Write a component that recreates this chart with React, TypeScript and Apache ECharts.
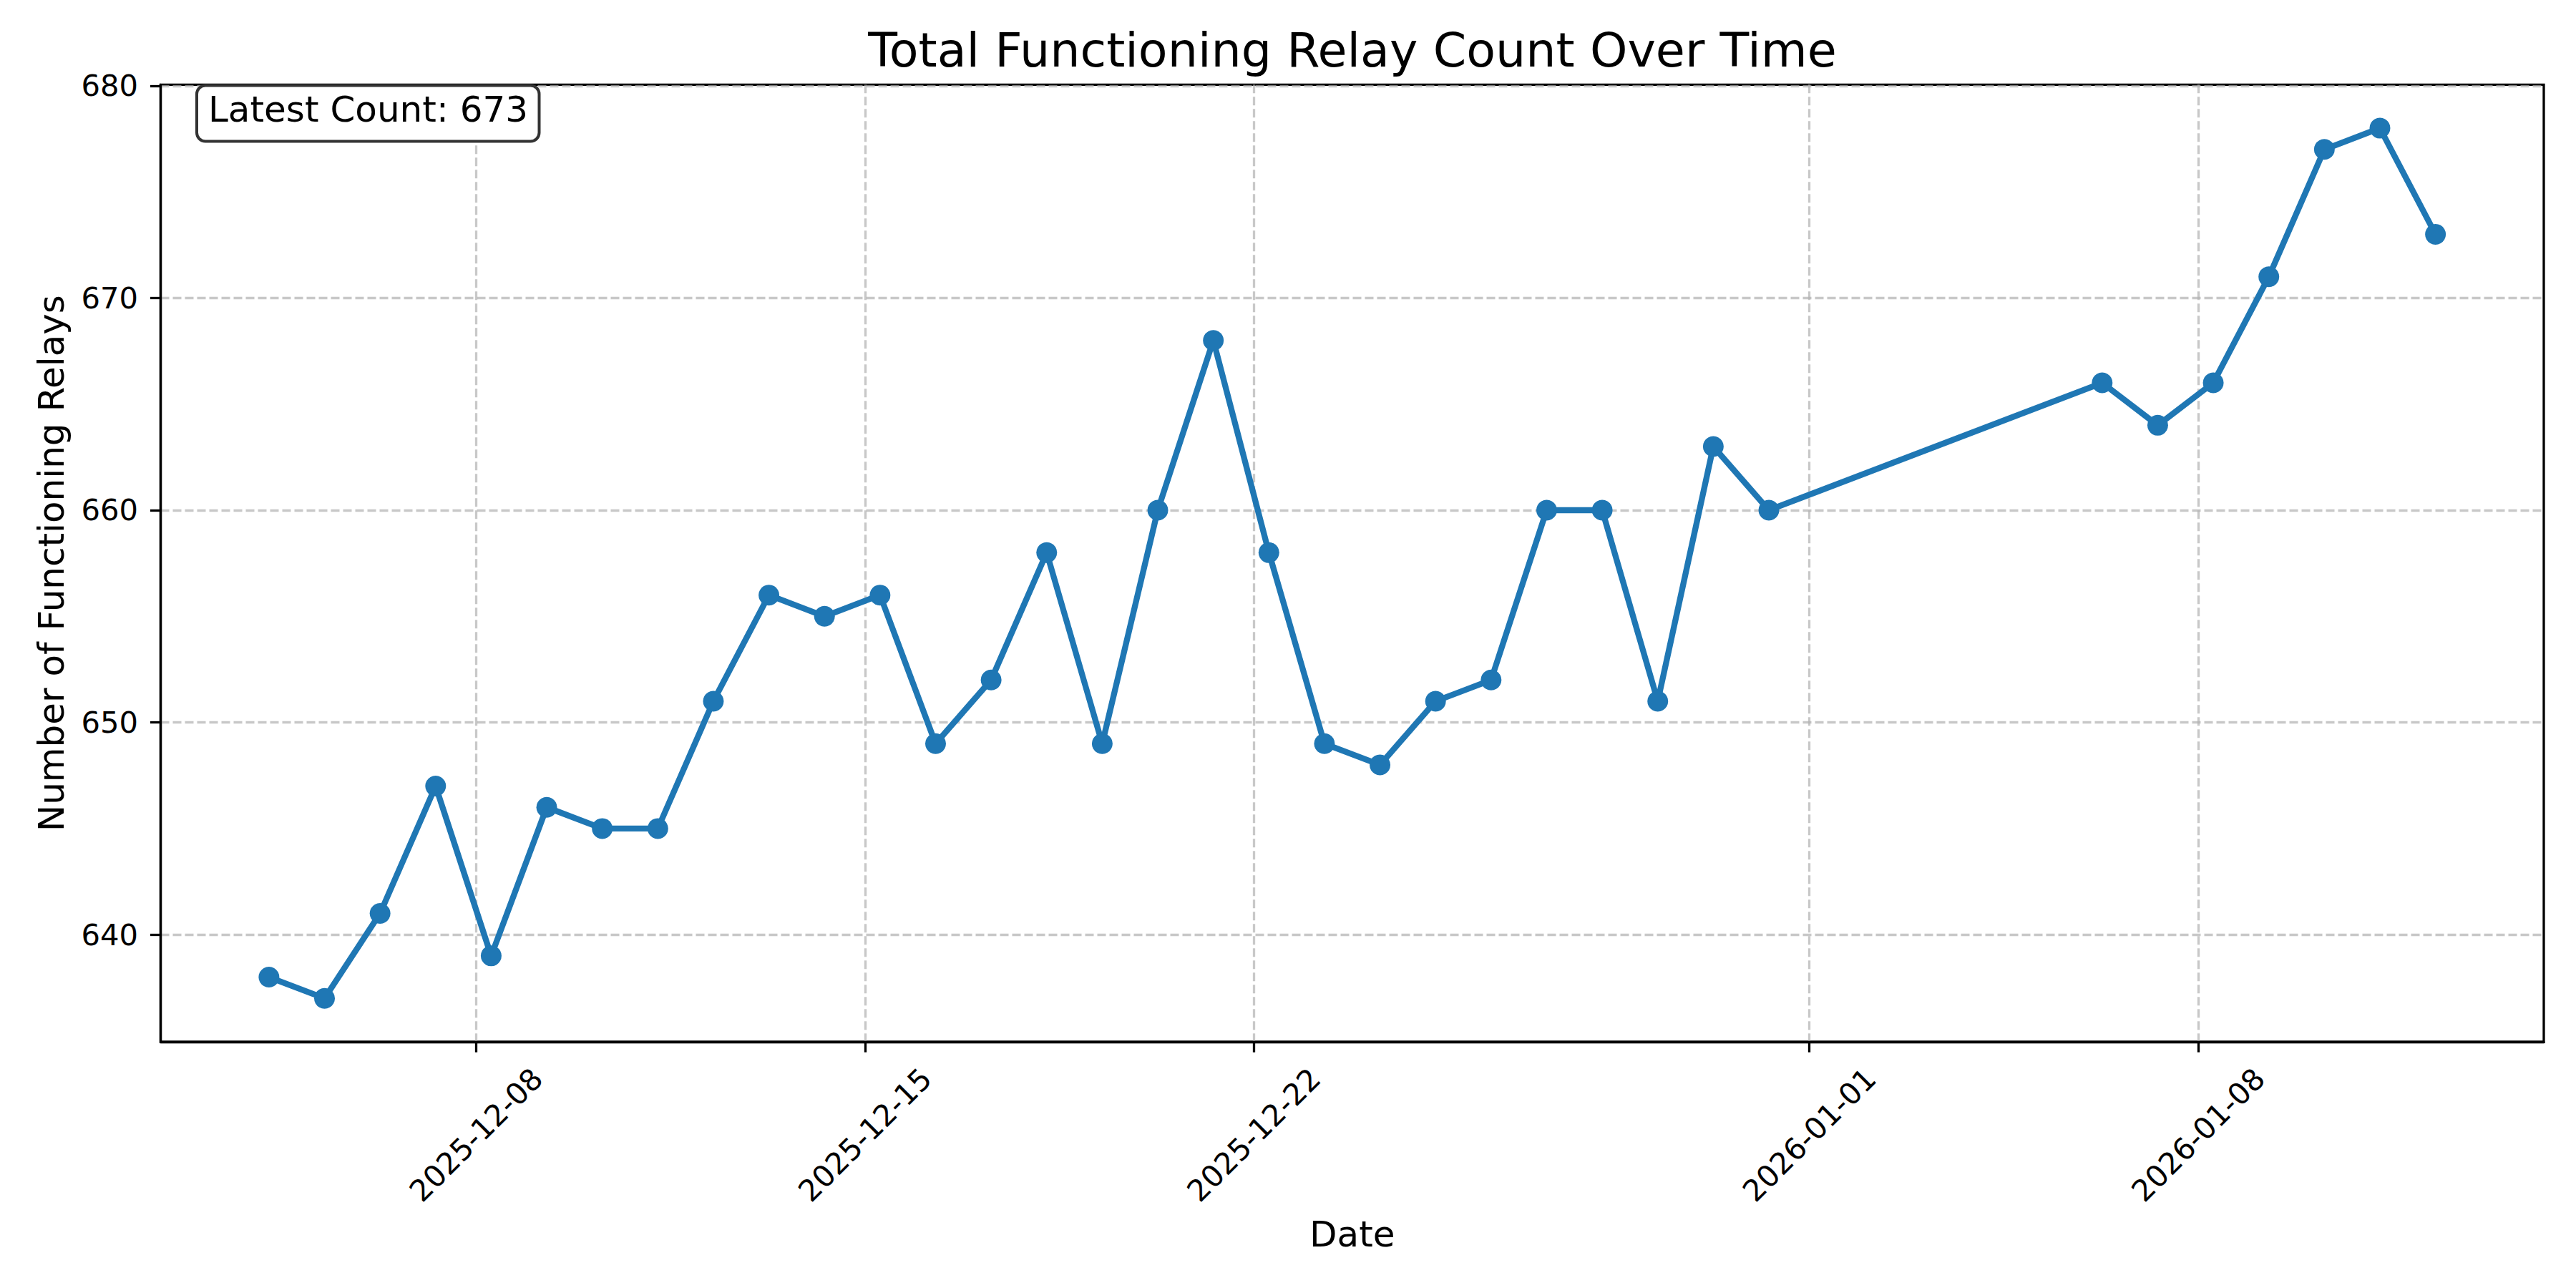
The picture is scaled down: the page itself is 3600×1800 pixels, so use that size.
import React, { useEffect, useRef } from "react";
import * as echarts from "echarts";

const sampleDates = [
  "2025-12-04", "2025-12-05", "2025-12-06", "2025-12-07", "2025-12-08", "2025-12-09", "2025-12-10",
  "2025-12-11", "2025-12-12", "2025-12-13", "2025-12-14", "2025-12-15", "2025-12-16", "2025-12-17",
  "2025-12-18", "2025-12-19", "2025-12-20", "2025-12-21", "2025-12-22", "2025-12-23", "2025-12-24",
  "2025-12-25", "2025-12-26", "2025-12-27", "2025-12-28", "2025-12-29", "2025-12-30", "2025-12-31",
  "2026-01-06", "2026-01-07", "2026-01-08", "2026-01-09", "2026-01-10", "2026-01-11", "2026-01-12",
];
const sampleTimeOfDay = "T06:30:00Z";
const relayCounts = [
  638, 637, 641, 647, 639, 646, 645,
  645, 651, 656, 655, 656, 649, 652,
  658, 649, 660, 668, 658, 649, 648,
  651, 652, 660, 660, 651, 663, 660,
  666, 664, 666, 671, 677, 678, 673,
];
const xTickDates = ["2025-12-08", "2025-12-15", "2025-12-22", "2026-01-01", "2026-01-08"];
const yTickValues = [640, 650, 660, 670, 680];

const titleText = "Total Functioning Relay Count Over Time";
const xAxisTitle = "Date";
const yAxisTitle = "Number of Functioning Relays";

const FONT = "DejaVu Sans";
const BLUE = "#1f77b4";

function fmtDate(v: number): string {
  const d = new Date(v);
  const mm = String(d.getUTCMonth() + 1).padStart(2, "0");
  const dd = String(d.getUTCDate()).padStart(2, "0");
  return `${d.getUTCFullYear()}-${mm}-${dd}`;
}

export default function App() {
  const ref = useRef<HTMLDivElement>(null);

  useEffect(() => {
    if (!ref.current) return;
    const chart = echarts.init(ref.current, null, { renderer: "svg" });

    const times = sampleDates.map((d) => Date.parse(d + sampleTimeOfDay));
    const tMin = Math.min(...times);
    const tMax = Math.max(...times);
    const tSpan = tMax - tMin;
    const vMin = Math.min(...relayCounts);
    const vMax = Math.max(...relayCounts);
    const vSpan = vMax - vMin;
    const xTicks = xTickDates.map((d) => Date.parse(d + "T00:00:00Z"));
    const data = times.map((t, i) => [t, relayCounts[i]]);
    const latest = relayCounts[relayCounts.length - 1];

    const gridLineStyle = { color: "#b0b0b0", opacity: 0.7, width: 3.3, type: [12, 5] as number[] };

    chart.setOption({
      animation: false,
      backgroundColor: "#ffffff",
      title: {
        text: titleText,
        left: 1890,
        top: 37,
        padding: 0,
        textAlign: "center",
        textStyle: { fontFamily: FONT, fontSize: 66.7, fontWeight: "normal", color: "#000", lineHeight: 66.7 },
      },
      grid: {
        left: 224.5,
        top: 118.3,
        right: 45,
        bottom: 344,
        show: true,
        borderColor: "#000",
        borderWidth: 3.3,
        backgroundColor: "transparent",
        containLabel: false,
      },
      xAxis: {
        type: "value",
        min: tMin - 0.05 * tSpan,
        max: tMax + 0.05 * tSpan,
        scale: true,
        name: xAxisTitle,
        nameLocation: "middle",
        nameGap: 244,
        nameTextStyle: { fontFamily: FONT, fontSize: 50, color: "#000", lineHeight: 50 },
        axisLine: { show: true, onZero: false, lineStyle: { color: "#000", width: 3.3 } },
        axisTick: { show: true, length: 14.6, lineStyle: { color: "#000", width: 3.3 }, customValues: xTicks },
        axisLabel: {
          customValues: xTicks,
          rotate: 45,
          align: "center",
          verticalAlign: "middle",
          margin: 130,
          fontFamily: FONT,
          fontSize: 41.7,
          color: "#000",
          hideOverlap: false,
          formatter: (v: number) => fmtDate(v),
        },
        splitLine: { show: true, lineStyle: gridLineStyle },
      },
      yAxis: {
        type: "value",
        min: vMin - 0.05 * vSpan,
        max: vMax + 0.05 * vSpan,
        scale: true,
        name: yAxisTitle,
        nameLocation: "middle",
        nameGap: 127.5,
        nameTextStyle: { fontFamily: FONT, fontSize: 50, color: "#000", lineHeight: 50 },
        axisLine: { show: true, onZero: false, lineStyle: { color: "#000", width: 3.3 } },
        axisTick: { show: true, length: 14.6, lineStyle: { color: "#000", width: 3.3 }, customValues: yTickValues },
        axisLabel: {
          customValues: yTickValues,
          margin: 31.5,
          fontFamily: FONT,
          fontSize: 41.7,
          color: "#000",
        },
        splitLine: { show: true, lineStyle: gridLineStyle },
      },
      series: [
        {
          type: "line",
          data,
          z: 3,
          symbol: "circle",
          symbolSize: 29,
          showSymbol: true,
          showAllSymbol: true,
          lineStyle: { color: BLUE, width: 8.3 },
          itemStyle: { color: BLUE },
        },
      ],
      graphic: [
        {
          type: "rect",
          z: 100,
          shape: { x: 275, y: 119.5, width: 478.5, height: 78, r: 12 },
          style: { fill: "#ffffff", stroke: "#333333", lineWidth: 4 },
        },
        {
          type: "text",
          z: 101,
          x: 291,
          y: 153.4,
          style: {
            text: `Latest Count: ${latest}`,
            fontFamily: FONT,
            fontSize: 50,
            fill: "#000",
            textAlign: "left",
            textVerticalAlign: "middle",
          },
        },
      ],
    });

    return () => chart.dispose();
  }, []);

  return (
    <div
      ref={ref}
      style={{ position: "fixed", left: 0, top: 0, width: 3600, height: 1800 }}
    />
  );
}
